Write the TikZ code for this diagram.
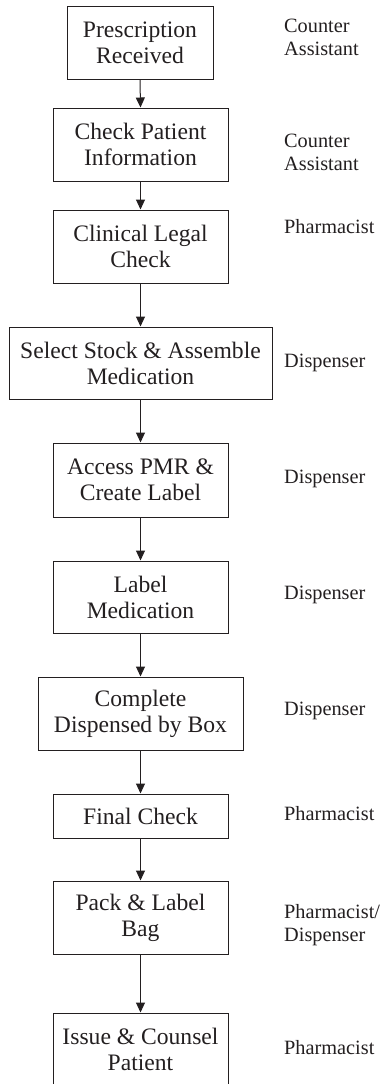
\documentclass[tikz,border=0pt]{standalone}
\usepackage{fontspec}
\setmainfont{Liberation Serif}
\usetikzlibrary{arrows.meta}
\definecolor{ink}{RGB}{35,31,32}
\begin{document}
\begin{tikzpicture}[x=1pt,y=-1pt,
  stepbox/.style={draw=ink,line width=1pt,text=ink,inner sep=0pt,align=center,
    font=\fontsize{23.6}{26}\selectfont,minimum height=73pt},
  role/.style={anchor=west,text=ink,inner sep=0pt,align=left,
    font=\fontsize{20.3}{23}\selectfont},
  flow/.style={draw=ink,line width=1pt,-{Triangle[width=9pt,length=10pt]}}]
\useasboundingbox (0,0) rectangle (382,1084);
\node[stepbox,minimum width=146pt] (b1) at (140,42.5) {Prescription\\Received};
\node[stepbox,minimum width=175pt] (b2) at (140.5,144.5) {Check Patient\\Information};
\node[stepbox,minimum width=175pt] (b3) at (140.5,246.5) {Clinical Legal\\Check};
\node[stepbox,minimum width=263pt,minimum height=72pt] (b4) at (140.5,363) {Select Stock \& Assemble\\Medication};
\node[stepbox,minimum width=175pt,minimum height=74pt] (b5) at (140.5,480) {Access PMR \&\\Create Label};
\node[stepbox,minimum width=175pt,minimum height=72pt] (b6) at (140.5,597) {Label\\Medication};
\node[stepbox,minimum width=205pt] (b7) at (140.5,713.5) {Complete\\Dispensed by Box};
\node[stepbox,minimum width=175pt,minimum height=44pt] (b8) at (140.5,816) {Final Check};
\node[stepbox,minimum width=175pt] (b9) at (140.5,917.5) {Pack \& Label\\Bag};
\node[stepbox,minimum width=175pt] (b10) at (140.5,1049.5) {Issue \& Counsel\\Patient};
\foreach \a/\b in {b1/b2,b2/b3,b3/b4,b4/b5,b5/b6,b6/b7,b7/b8,b8/b9,b9/b10}
  \draw[flow] (\a.south) -- (\b.north);
\node[role] (r1) at (284,37.5) {Counter\\Assistant};
\node[role] (r2) at (284,152.5) {Counter\\Assistant};
\node[role] (r3) at (284,227) {Pharmacist};
\node[role] (r4) at (284,363) {Dispenser};
\node[role] (r5) at (284,479) {Dispenser};
\node[role] (r6) at (284,595) {Dispenser};
\node[role] (r7) at (284,711) {Dispenser};
\node[role] (r8) at (284,814) {Pharmacist};
\node[role] (r9) at (284,925) {Pharmacist/\\Dispenser};
\node[role] (r10) at (284,1048) {Pharmacist};
\end{tikzpicture}
\end{document}
